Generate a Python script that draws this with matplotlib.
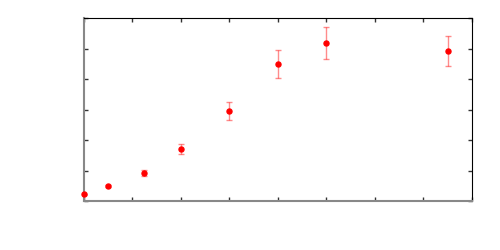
import matplotlib
matplotlib.use("Agg")
import matplotlib.pyplot as plt

x_values = [0, 0.5, 1.25, 2, 3, 4, 5, 7.5]
y_values = [0.22, 0.48, 0.91, 1.70, 2.95, 4.48, 5.19, 4.91]
y_errors = [0.02, 0.03, 0.10, 0.16, 0.29, 0.46, 0.52, 0.49]

fig = plt.figure(figsize=(5, 2.5), dpi=100)
ax = fig.add_axes([0.167, 0.196, 0.777, 0.732])

ax.errorbar(x_values, y_values, yerr=y_errors, fmt="none",
            ecolor="red", alpha=0.45, elinewidth=1, capsize=2.5, capthick=1)
ax.plot(x_values, y_values, "o", color="red", markersize=3.6, clip_on=False, zorder=3)

ax.set_xlim(0, 8)
ax.set_ylim(0, 6)
ax.set_xticks(range(0, 9))
ax.set_yticks(range(0, 7))
ax.tick_params(direction="in", length=3, width=1, color="#333333",
               top=True, right=True, labelbottom=False, labelleft=False)

ax.spines["left"].set_color("#888888")
ax.spines["bottom"].set_color("#888888")
ax.spines["left"].set_linewidth(1.5)
ax.spines["bottom"].set_linewidth(1.5)
ax.spines["top"].set_color("black")
ax.spines["right"].set_color("black")

fig.savefig("out.png", dpi=100)
